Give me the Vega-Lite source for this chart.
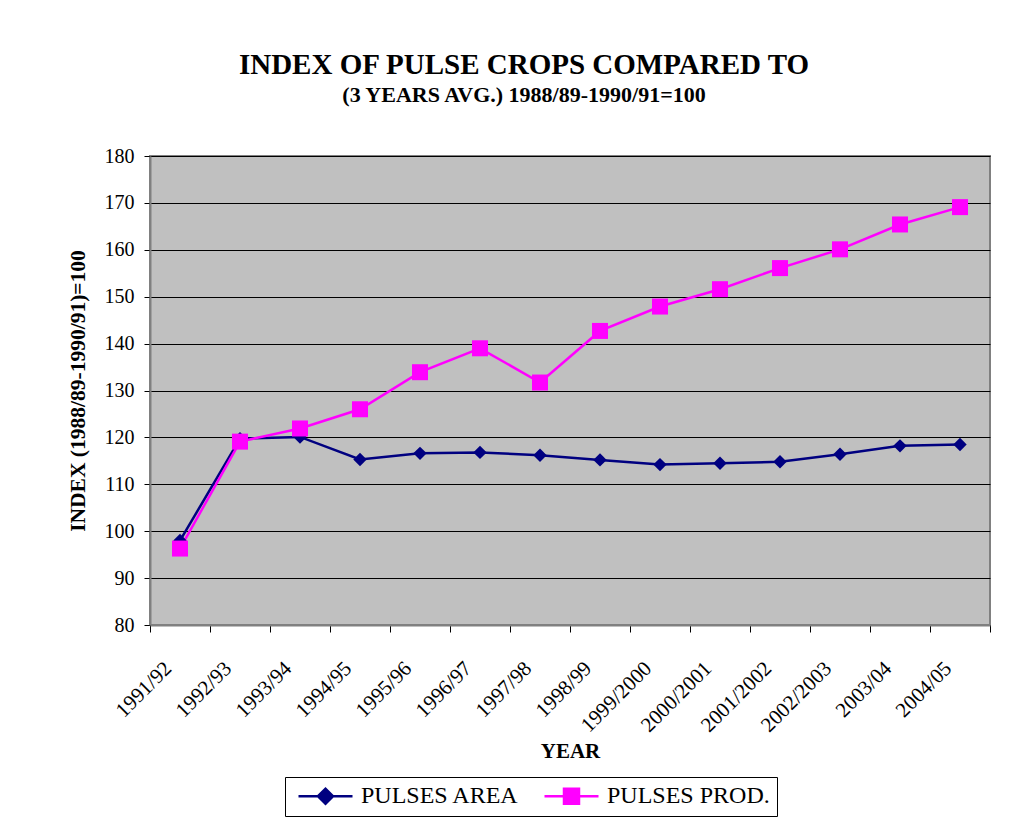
{
  "$schema": "https://vega.github.io/schema/vega-lite/v6.json",
  "width": 840,
  "height": 469,
  "autosize": {"type": "none"},
  "padding": {"left": 150, "top": 156, "right": 36, "bottom": 199},
  "background": "white",
  "config": {
    "font": "Liberation Serif",
    "view": {"fill": "#C0C0C0", "stroke": "#808080", "strokeWidth": 2},
    "axis": {"labelFont": "Liberation Serif", "titleFont": "Liberation Serif"},
    "legend": {"labelFont": "Liberation Serif", "titleFont": "Liberation Serif"}
  },
  "title": {
    "text": "INDEX OF PULSE CROPS COMPARED TO",
    "subtitle": "(3 YEARS AVG.) 1988/89-1990/91=100",
    "font": "Liberation Serif",
    "fontSize": 29,
    "fontWeight": "bold",
    "color": "black",
    "subtitleFont": "Liberation Serif",
    "subtitleFontSize": 22,
    "subtitleFontWeight": "bold",
    "subtitleColor": "black",
    "subtitlePadding": 5,
    "anchor": "middle",
    "frame": "group",
    "dx": -46,
    "offset": 40
  },
  "data": {
    "values": [
      {"year": "1991/92", "series": "PULSES AREA", "value": 98.0},
      {"year": "1992/93", "series": "PULSES AREA", "value": 119.7},
      {"year": "1993/94", "series": "PULSES AREA", "value": 120.1},
      {"year": "1994/95", "series": "PULSES AREA", "value": 115.3},
      {"year": "1995/96", "series": "PULSES AREA", "value": 116.6},
      {"year": "1996/97", "series": "PULSES AREA", "value": 116.8},
      {"year": "1997/98", "series": "PULSES AREA", "value": 116.2},
      {"year": "1998/99", "series": "PULSES AREA", "value": 115.2},
      {"year": "1999/2000", "series": "PULSES AREA", "value": 114.2},
      {"year": "2000/2001", "series": "PULSES AREA", "value": 114.5},
      {"year": "2001/2002", "series": "PULSES AREA", "value": 114.8},
      {"year": "2002/2003", "series": "PULSES AREA", "value": 116.4},
      {"year": "2003/04", "series": "PULSES AREA", "value": 118.2},
      {"year": "2004/05", "series": "PULSES AREA", "value": 118.5},
      {"year": "1991/92", "series": "PULSES PROD.", "value": 96.3},
      {"year": "1992/93", "series": "PULSES PROD.", "value": 119.1},
      {"year": "1993/94", "series": "PULSES PROD.", "value": 121.9},
      {"year": "1994/95", "series": "PULSES PROD.", "value": 126.0},
      {"year": "1995/96", "series": "PULSES PROD.", "value": 133.9},
      {"year": "1996/97", "series": "PULSES PROD.", "value": 139.0},
      {"year": "1997/98", "series": "PULSES PROD.", "value": 131.7},
      {"year": "1998/99", "series": "PULSES PROD.", "value": 142.7},
      {"year": "1999/2000", "series": "PULSES PROD.", "value": 147.9},
      {"year": "2000/2001", "series": "PULSES PROD.", "value": 151.6},
      {"year": "2001/2002", "series": "PULSES PROD.", "value": 156.1},
      {"year": "2002/2003", "series": "PULSES PROD.", "value": 160.1},
      {"year": "2003/04", "series": "PULSES PROD.", "value": 165.4},
      {"year": "2004/05", "series": "PULSES PROD.", "value": 169.1}
    ]
  },
  "encoding": {
    "x": {
      "field": "year",
      "type": "ordinal",
      "sort": null,
      "bandPosition": 0.5,
      "scale": {"type": "band", "paddingInner": 0, "paddingOuter": 0},
      "axis": {
        "title": "YEAR",
        "titleFont": "Liberation Serif",
        "titleFontSize": 21,
        "titleFontWeight": "bold",
        "titleColor": "black",
        "titleY": 132,
        "titleBaseline": "alphabetic",
        "labelAngle": -45,
        "labelAlign": "right",
        "labelBaseline": "middle",
        "labelFont": "Liberation Serif",
        "labelFontSize": 21,
        "labelColor": "black",
        "labelPadding": 33,
        "labelOffset": -12,
        "tickBand": "extent",
        "tickColor": "black",
        "tickSize": 7,
        "domainColor": "#808080",
        "domainWidth": 2,
        "grid": false
      }
    },
    "y": {
      "field": "value",
      "type": "quantitative",
      "scale": {"domain": [80, 180], "nice": false, "zero": false},
      "axis": {
        "title": "INDEX (1988/89-1990/91)=100",
        "titleFont": "Liberation Serif",
        "titleFontSize": 21.5,
        "titleFontWeight": "bold",
        "titleColor": "black",
        "titleX": -72,
        "titleY": 234.5,
        "titleAlign": "center",
        "titleBaseline": "middle",
        "titleAngle": -90,
        "values": [80, 90, 100, 110, 120, 130, 140, 150, 160, 170, 180],
        "labelFont": "Liberation Serif",
        "labelFontSize": 20,
        "labelColor": "black",
        "labelPadding": 10,
        "tickColor": "black",
        "tickSize": 6,
        "domainColor": "#808080",
        "domainWidth": 2,
        "grid": true,
        "gridColor": "black",
        "gridWidth": 1
      }
    },
    "color": {
      "field": "series",
      "type": "nominal",
      "scale": {"domain": ["PULSES AREA", "PULSES PROD."], "range": ["#000080", "#FF00FF"]},
      "legend": {
        "title": null,
        "orient": "none",
        "legendX": 135,
        "legendY": 621,
        "direction": "horizontal",
        "strokeColor": "black",
        "fillColor": "white",
        "padding": 7,
        "labelFont": "Liberation Serif",
        "labelFontSize": 24,
        "labelLimit": 400,
        "labelColor": "black",
        "symbolSize": 400,
        "symbolStrokeWidth": 2.5,
        "symbolOffset": 21.5,
        "labelOffset": 23.5,
        "columnPadding": 18,
        "encode": {
          "symbols": {
            "update": {
              "shape": {"signal": "datum.value == 'PULSES AREA' ? 'M-2.7,0H2.7M-0.75,0L0,-0.75L0.75,0L0,0.75Z' : 'M-2.7,0H2.7M-0.75,-0.75H0.75V0.75H-0.75Z'"},
              "size": {"value": 400},
              "strokeWidth": {"value": 2.5},
              "fill": {"signal": "datum.value == 'PULSES AREA' ? '#000080' : '#FF00FF'"},
              "stroke": {"signal": "datum.value == 'PULSES AREA' ? '#000080' : '#FF00FF'"},
              "opacity": {"value": 1}
            }
          }
        }
      }
    }
  },
  "layer": [
    {
      "mark": {"type": "line", "strokeWidth": 2.5}
    },
    {
      "transform": [{"filter": "datum.series == 'PULSES AREA'"}],
      "mark": {"type": "point", "filled": true, "opacity": 1, "shape": "diamond", "size": 180}
    },
    {
      "transform": [{"filter": "datum.series == 'PULSES PROD.'"}],
      "mark": {"type": "point", "filled": true, "opacity": 1, "shape": "square", "size": 256}
    }
  ]
}
